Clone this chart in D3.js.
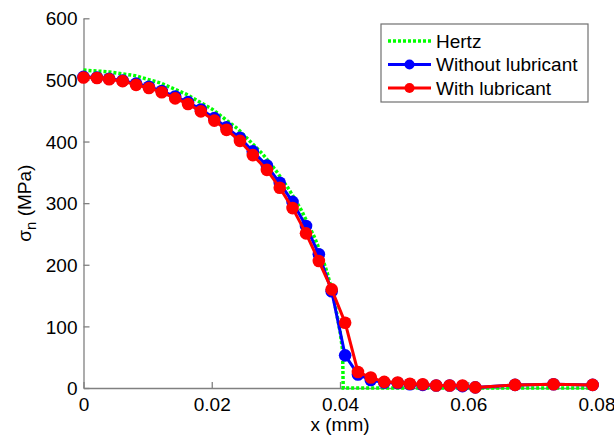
<!DOCTYPE html>
<html><head><meta charset="utf-8">
<script src="https://cdn.jsdelivr.net/npm/d3@7"></script>
<style>body{margin:0;background:#fff}svg{display:block}text{font-family:"Liberation Sans",Arial,sans-serif}</style>
</head><body><svg id="c" width="614" height="436"></svg>
<script>
const hertzX = [0, 0.004, 0.008, 0.012, 0.016, 0.020, 0.024, 0.028, 0.030, 0.032, 0.034, 0.036, 0.037, 0.038, 0.039, 0.040, 0.0404, 0.0405, 0.080];
const hertzY = [516, 513, 507, 495, 477, 453, 421, 379, 353, 323, 288, 245, 219, 187, 148, 92, 62, 0, 0];
const nodeX = [0, 0.0021, 0.0040, 0.0061, 0.0082, 0.0102, 0.0122, 0.0143, 0.0163, 0.0183, 0.0204, 0.0223, 0.0244, 0.0264, 0.0286, 0.0306, 0.0326, 0.0347, 0.0367, 0.0387, 0.0408, 0.0428, 0.0448, 0.0469, 0.0490, 0.0509, 0.0529, 0.0550, 0.0571, 0.0591, 0.0611, 0.0673, 0.0733, 0.0794];
const withoutLub = [505, 504, 502, 499, 494, 489, 482, 473, 464, 452, 438, 423, 406, 384, 361, 333, 302, 263, 217, 157, 53, 22, 13, 9, 8, 6, 5, 4, 4, 3, 1, 5, 6, 5];
const withLub = [504, 503, 501, 498, 492, 487, 480, 470, 461, 449, 434, 419, 401, 378, 354, 325, 292, 251, 206, 160, 106, 26, 17, 10, 9, 7, 6, 4, 4, 4, 1, 5, 6, 5];
const xTicks = [0, 0.02, 0.04, 0.06, 0.08];
const xTickLabels = ["0", "0.02", "0.04", "0.06", "0.08"];
const yTicks = [0, 100, 200, 300, 400, 500, 600];
const seriesNames = ["Hertz", "Without lubricant", "With lubricant"];
const seriesColors = ["#00ff00", "#0000ff", "#ff0000"];

const svg = d3.select("#c");
const L = 83.5, R = 596.5, T = 18.3, B = 388;
const x = d3.scaleLinear().domain([0, 0.08]).range([L, R]);
const y = d3.scaleLinear().domain([0, 600]).range([B, T]);
const axisCol = "#808080";
const fs = 19;

// axes
const xa = svg.append("g").attr("transform", `translate(0,${B})`)
  .call(d3.axisBottom(x).tickValues(xTicks).tickFormat((d,i)=>xTickLabels[i]).tickSizeInner(-6).tickSizeOuter(0).tickPadding(10));
const ya = svg.append("g").attr("transform", `translate(${L},0)`)
  .call(d3.axisLeft(y).tickValues(yTicks).tickSizeInner(-6).tickSizeOuter(0).tickPadding(6));
[xa, ya].forEach(a => {
  a.select(".domain").attr("stroke", axisCol).attr("stroke-width", 1.3);
  a.selectAll(".tick line").attr("stroke", axisCol).attr("stroke-width", 1.3);
  a.selectAll("text").attr("fill", "#000").style("font-size", fs + "px").style("font-family", '"Liberation Sans",Arial,sans-serif');
});
xa.selectAll(".tick text").attr("dy", "0.71em");
ya.selectAll(".tick text").attr("dy", "0.35em");

// axis labels
svg.append("text").attr("x", (L + R) / 2).attr("y", 431).attr("text-anchor", "middle")
  .style("font-size", fs + "px").text("x (mm)");
const yl = svg.append("text").attr("transform", `translate(31,${(T + B) / 2}) rotate(-90)`)
  .attr("text-anchor", "middle").style("font-size", fs + "px");
yl.append("tspan").text("σ");
yl.append("tspan").attr("dy", 5).style("font-size", "15px").text("n");
yl.append("tspan").attr("dy", -5).text(" (MPa)");

const line = d3.line().x(d => x(d[0])).y(d => y(d[1]));
const hertz = hertzX.map((v, i) => [v, hertzY[i]]);
svg.append("path").datum(hertz).attr("d", line).attr("fill", "none")
  .attr("stroke", seriesColors[0]).attr("stroke-width", 3.5).attr("stroke-dasharray", "3,2");

[[withoutLub, seriesColors[1]], [withLub, seriesColors[2]]].forEach(([vals, col]) => {
  const pts = nodeX.map((v, i) => [v, vals[i]]);
  svg.append("path").datum(pts).attr("d", line).attr("fill", "none")
    .attr("stroke", col).attr("stroke-width", 3).attr("stroke-linejoin", "round");
  svg.append("g").selectAll("circle").data(pts).join("circle")
    .attr("cx", d => x(d[0])).attr("cy", d => y(d[1])).attr("r", 6.3).attr("fill", col);
});

// legend
const lg = svg.append("g");
lg.append("rect").attr("x", 381).attr("y", 24).attr("width", 207).attr("height", 78)
  .attr("fill", "#fff").attr("stroke", "#707070").attr("stroke-width", 1.2);
const rowY = [41, 64.5, 88];
seriesNames.forEach((n, i) => {
  const ln = lg.append("line").attr("x1", 388).attr("x2", 431).attr("y1", rowY[i]).attr("y2", rowY[i])
    .attr("stroke", seriesColors[i]).attr("stroke-width", i === 0 ? 3.5 : 3);
  if (i === 0) ln.attr("stroke-dasharray", "3,2");
  else lg.append("circle").attr("cx", 409.5).attr("cy", rowY[i]).attr("r", 5).attr("fill", seriesColors[i]);
  lg.append("text").attr("x", 436).attr("y", rowY[i]).attr("dy", "0.35em").style("font-size", fs + "px").text(n);
});
</script></body></html>
